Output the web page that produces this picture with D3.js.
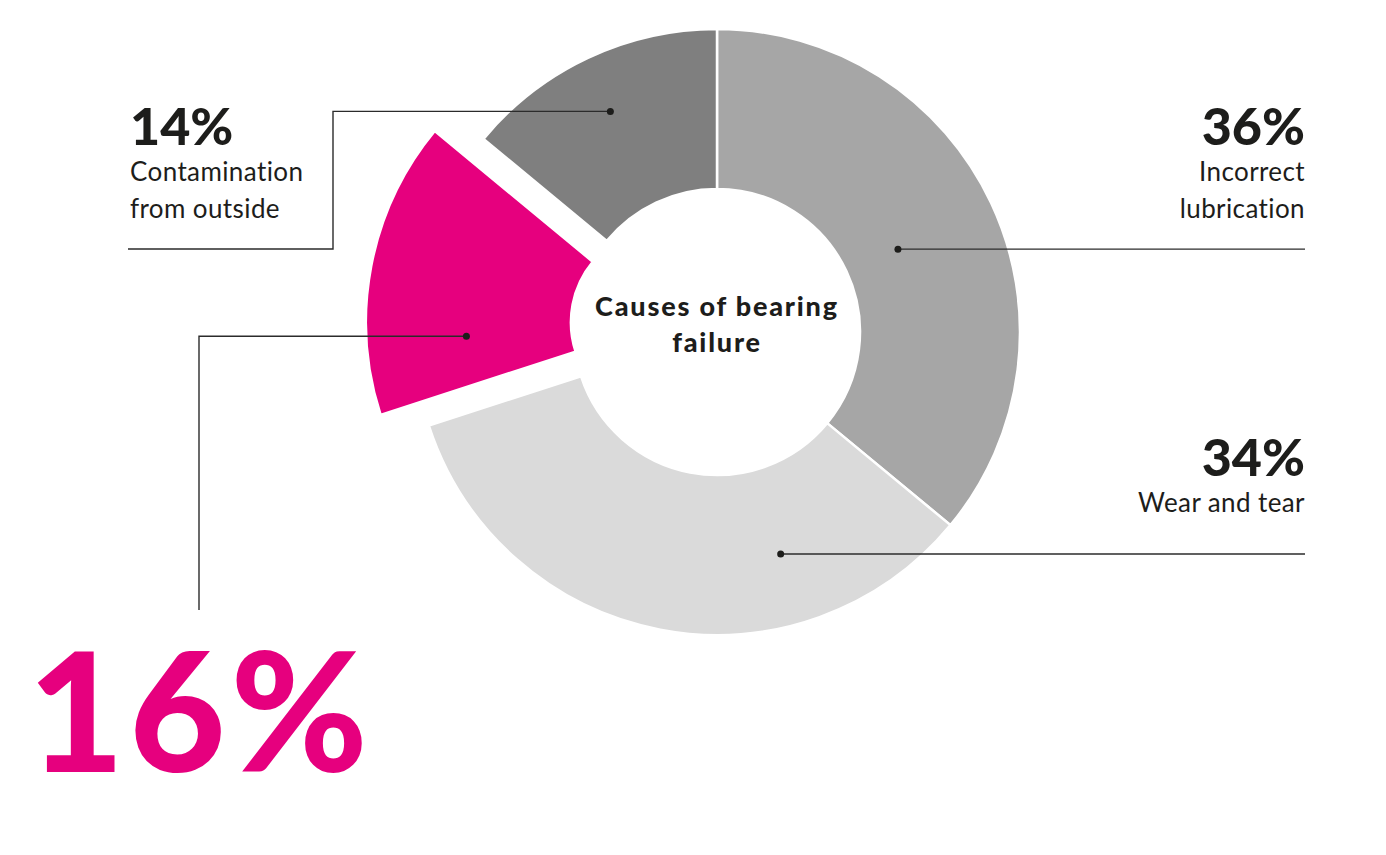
<!DOCTYPE html>
<html>
<head>
<meta charset="utf-8">
<script src="https://cdn.jsdelivr.net/npm/d3@7"></script>
<style>
  html, body { margin: 0; padding: 0; background: #fff; }
  svg text { font-family: Lato, "Open Sans", sans-serif; fill: #1d1d1b; }
</style>
</head>
<body>
<div id="container"></div>
<script>
// --- data ---
var categories = ["Incorrect lubrication", "Wear and tear", "Other", "Contamination from outside"];
var values = [36, 34, 16, 14];
var labelLines = [["Incorrect", "lubrication"], ["Wear and tear"], [], ["Contamination", "from outside"]];
var colors = ["#a6a6a6", "#dadada", "#e6007e", "#7f7f7f"];
var centerTitle = ["Causes of bearing", "failure"];

var svgWidth = 1386, svgHeight = 855;
var cx = 717, cy = 332;
var outerR = 303, innerR = 143;
var highlight = 2; // index of the exploded slice

var svg = d3.select("div#container")
    .append("svg")
    .attr("width", svgWidth)
    .attr("height", svgHeight);

var data = categories.map(function (c, i) {
    return { name: c, value: values[i], color: colors[i], lines: labelLines[i], idx: i };
});

var pie = d3.pie().sort(null).value(d => d.value);
var arcs = pie(data);

var arc = d3.arc().innerRadius(innerR).outerRadius(outerR);
var arcHi = d3.arc().innerRadius(95).outerRadius(300);

// offset of the exploded slice along its mid angle
function explode(a) {
    var mid = (a.startAngle + a.endAngle) / 2;
    return d3.pointRadial(mid, 52);
}

var g = svg.append("g").attr("transform", "translate(" + cx + "," + cy + ")");

// --- slices ---
g.selectAll("path.slice")
    .data(arcs)
    .enter()
    .append("path")
    .attr("class", "slice")
    .attr("d", d => d.data.idx === highlight ? arcHi(d) : arc(d))
    .attr("transform", function (d) {
        if (d.data.idx !== highlight) return null;
        var p = explode(d);
        return "translate(" + p[0] + "," + p[1] + ")";
    })
    .attr("fill", d => d.data.color)
    .attr("stroke", "#fff")
    .attr("stroke-width", 2.5);

// --- leaders & labels ---
// dot placement inside each slice: angle offset (deg) from mid angle and radius
var dotSpec = [
    { dAng: 0.6, r: 199 },
    { dAng: -26.8, r: 231 },
    { dAng: -14.8, r: 200 },
    { dAng: -0.6, r: 245 }
];
var lineColor = "#2b2b2b";

arcs.forEach(function (a, i) {
    var mid = (a.startAngle + a.endAngle) / 2 + dotSpec[i].dAng * Math.PI / 180;
    var p = d3.pointRadial(mid, dotSpec[i].r);
    if (i === highlight) {
        var o = explode(a);
        p = [p[0] + o[0], p[1] + o[1]];
    }
    var dx = cx + p[0], dy = cy + p[1];
    var pts;
    if (i === 0 || i === 1) {
        pts = [[dx, dy], [1305, dy]];
    } else if (i === 3) {
        pts = [[dx, dy], [333, dy], [333, 249], [128, 249]];
    } else {
        pts = [[dx, dy], [199, dy], [199, 610]];
    }
    svg.append("path")
        .attr("d", d3.line()(pts))
        .attr("fill", "none")
        .attr("stroke", lineColor)
        .attr("stroke-width", 1.4);
    svg.append("circle")
        .attr("cx", dx).attr("cy", dy).attr("r", 3.5)
        .attr("fill", "#1d1d1b");
});

// text blocks
function labelBlock(i, x, y, anchor) {
    var t = svg.append("g");
    t.append("text")
        .attr("x", x).attr("y", y)
        .attr("text-anchor", anchor)
        .style("font-size", "52px")
        .style("font-weight", 900)
        .text(values[i] + "%");
    labelLines[i].forEach(function (l, k) {
        t.append("text")
            .attr("x", x).attr("y", y + 36 + k * 37)
            .attr("text-anchor", anchor)
            .style("font-size", "26px")
            .style("font-weight", 400)
            .style("letter-spacing", "0.4px")
            .text(l);
    });
}
labelBlock(0, 1305, 145, "end");
labelBlock(1, 1305, 476, "end");
labelBlock(3, 130, 145, "start");

// big highlighted value
svg.append("text")
    .attr("x", 28).attr("y", 772)
    .style("font-size", "166px")
    .style("font-weight", 900)
    .style("letter-spacing", "5px")
    .style("fill", colors[highlight])
    .text(values[highlight] + "%");

// center title
centerTitle.forEach(function (l, k) {
    svg.append("text")
        .attr("x", cx).attr("y", 316 + k * 36)
        .attr("text-anchor", "middle")
        .style("font-size", "27px")
        .style("font-weight", 900)
        .style("letter-spacing", "1.8px")
        .text(l);
});
</script>
</body>
</html>
